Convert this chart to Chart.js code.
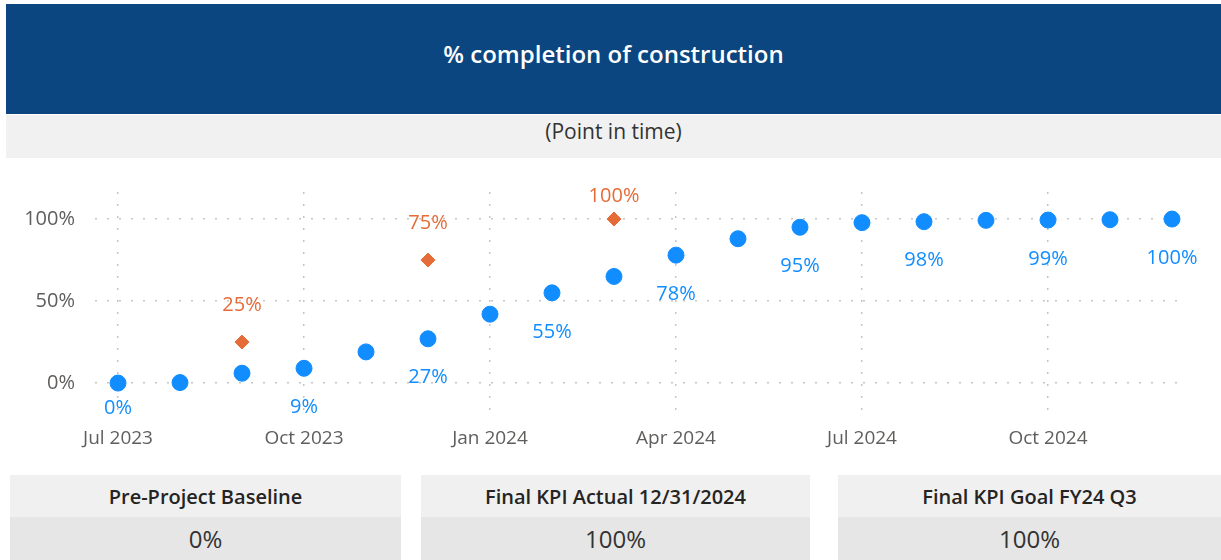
<!DOCTYPE html>
<html lang="en">
<head>
    <meta charset="UTF-8">
    <title>% completion of construction</title>
    <script src="https://cdn.jsdelivr.net/npm/chart.js"></script>
    <style>
        body { margin: 0; width: 1221px; height: 560px; background: #fff; overflow: hidden;
               font-family: "Segoe UI", "Open Sans", sans-serif; position: relative; }
        .title-bar { position: absolute; left: 6px; top: 4px; width: 1215px; height: 110px;
                     background: #0b4680; color: #fff; font-size: 24px; font-weight: 600;
                     display: flex; align-items: center; justify-content: center;
                     padding-bottom: 12px; box-sizing: border-box; }
        .subtitle { position: absolute; left: 6px; top: 115px; width: 1215px; height: 43px;
                    background: #f1f1f1; color: #333; font-size: 21px;
                    display: flex; align-items: center; justify-content: center; padding-bottom: 11px; box-sizing: border-box; }
        .chart-box { position: absolute; left: 0; top: 160px; width: 1221px; height: 300px; }
        .card { position: absolute; top: 475px; height: 85px; }
        .card .head { height: 42px; background: #f0f0f0; color: #252423; font-size: 20px; font-weight: 600;
                      display: flex; align-items: center; justify-content: center; }
        .card .val { height: 43px; background: #e6e6e6; color: #333; font-size: 24px;
                     display: flex; align-items: center; justify-content: center; }
    </style>
</head>
<body>

    <div class="title-bar">% completion of construction</div>
    <div class="subtitle">(Point in time)</div>

    <div class="chart-box"><canvas id="grafico"></canvas></div>

    <div class="card" style="left:10px; width:391px;">
        <div class="head">Pre-Project Baseline</div>
        <div class="val">0%</div>
    </div>
    <div class="card" style="left:421px; width:389px;">
        <div class="head">Final KPI Actual 12/31/2024</div>
        <div class="val">100%</div>
    </div>
    <div class="card" style="left:838px; width:383px;">
        <div class="head">Final KPI Goal FY24 Q3</div>
        <div class="val">100%</div>
    </div>

    <script>
        // months from Jul 2023 to Dec 2024 (index 0..17)
        const months = ['Jul 2023', 'Aug 2023', 'Sep 2023', 'Oct 2023', 'Nov 2023', 'Dec 2023',
                        'Jan 2024', 'Feb 2024', 'Mar 2024', 'Apr 2024', 'May 2024', 'Jun 2024',
                        'Jul 2024', 'Aug 2024', 'Sep 2024', 'Oct 2024', 'Nov 2024', 'Dec 2024'];
        const actual = [0, 0.3, 6, 9, 19, 27, 42, 55, 65, 78, 88, 95, 97.8, 98.4, 99.2, 99.4, 99.6, 100];
        const goalMonths = [2, 5, 8];
        const goal = [25, 75, 100];
        const actualLabelled = [0, 3, 5, 7, 9, 11, 13, 15, 17];
        const xTicks = [0, 3, 6, 9, 12, 15];
        const yTicks = [0, 50, 100];

        const azul = '#118dff';
        const laranja = '#e66c37';
        const fonte = '"Segoe UI", "Open Sans", sans-serif';

        // data labels drawn next to the points
        const rotulos = {
            id: 'rotulos',
            afterDatasetsDraw(chart) {
                const ctx = chart.ctx;
                const area = chart.chartArea;
                ctx.save();
                ctx.font = '20px ' + fonte;
                ctx.textAlign = 'center';
                ctx.textBaseline = 'middle';

                const blue = chart.getDatasetMeta(0);
                ctx.fillStyle = azul;
                actualLabelled.forEach(i => {
                    const p = blue.data[i];
                    const y = Math.min(p.y + 39, area.bottom - 10);
                    ctx.fillText(Math.round(actual[i]) + '%', p.x, y);
                });

                const orange = chart.getDatasetMeta(1);
                ctx.fillStyle = laranja;
                goal.forEach((v, i) => {
                    const p = orange.data[i];
                    const y = Math.max(p.y - 37, area.top + 4);
                    ctx.fillText(v + '%', p.x, y);
                });
                ctx.restore();
            }
        };

        new Chart(document.getElementById('grafico'), {
            type: 'scatter',
            data: {
                datasets: [{
                    label: 'Actual',
                    data: actual.map((v, i) => ({ x: i, y: v })),
                    backgroundColor: azul,
                    borderColor: azul,
                    pointRadius: 8,
                    pointHoverRadius: 8
                }, {
                    label: 'Goal',
                    data: goal.map((v, i) => ({ x: goalMonths[i], y: v })),
                    backgroundColor: laranja,
                    borderColor: laranja,
                    pointStyle: 'rectRot',
                    pointRadius: 7,
                    pointHoverRadius: 7
                }]
            },
            options: {
                responsive: true,
                maintainAspectRatio: false,
                animation: false,
                layout: { padding: { top: 32, right: 34, left: 0, bottom: 0 } },
                plugins: {
                    legend: { display: false },
                    tooltip: { enabled: false }
                },
                scales: {
                    x: {
                        type: 'linear',
                        min: -0.371,
                        max: 17.242,
                        afterBuildTicks: s => { s.ticks = xTicks.map(v => ({ value: v })); },
                        afterFit: s => { s.height = 42; },
                        ticks: {
                            padding: 9,
                            color: '#605e5c',
                            font: { family: fonte, size: 19 },
                            maxRotation: 0,
                            callback: v => months[v]
                        },
                        grid: { color: '#c8c6c4', lineWidth: 1.5, drawTicks: false },
                        border: { display: false, dash: [2, 10] }
                    },
                    y: {
                        min: -21.3,
                        max: 116.5,
                        afterBuildTicks: s => { s.ticks = yTicks.map(v => ({ value: v })); },
                        afterFit: s => { s.width = 95; },
                        ticks: {
                            padding: 20,
                            color: '#605e5c',
                            font: { family: fonte, size: 20 },
                            callback: v => v + '%'
                        },
                        grid: { color: '#c8c6c4', lineWidth: 1.5, drawTicks: false },
                        border: { display: false, dash: [2, 10] }
                    }
                }
            },
            plugins: [rotulos]
        });
    </script>

</body>
</html>
